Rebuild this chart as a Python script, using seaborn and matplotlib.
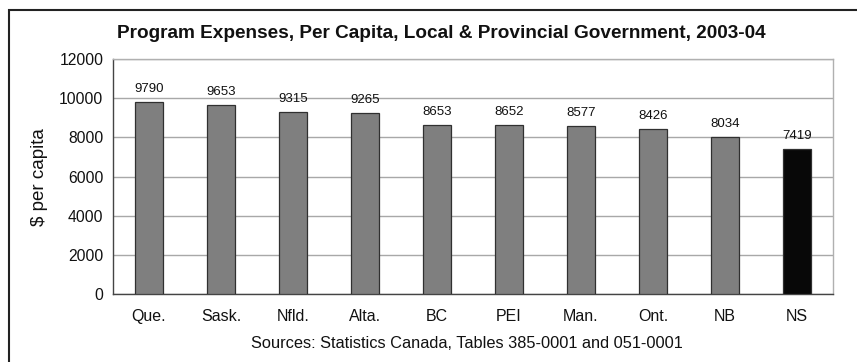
import matplotlib
matplotlib.use("Agg")
import matplotlib.pyplot as plt
import seaborn as sns
import pandas as pd
from matplotlib.patches import Rectangle

provinces = ["Que.", "Sask.", "Nfld.", "Alta.", "BC", "PEI", "Man.", "Ont.", "NB", "NS"]
expenses = [9790, 9653, 9315, 9265, 8653, 8652, 8577, 8426, 8034, 7419]
bar_colors = ["#7f7f7f"] * 9 + ["#080808"]
y_ticks = [0, 2000, 4000, 6000, 8000, 10000, 12000]

sns.set_theme(style="white")
plt.rcParams["font.family"] = ["Liberation Sans", "DejaVu Sans"]

df = pd.DataFrame({"province": provinces, "expense": expenses})

fig = plt.figure(figsize=(8.57, 3.62), dpi=100)
ax = fig.add_axes([113 / 857, 1 - 294 / 362, 720 / 857, 235 / 362])

sns.barplot(data=df, x="province", y="expense", hue="province",
            palette=bar_colors, legend=False, width=0.4, ax=ax,
            edgecolor="#303030", linewidth=0.9, zorder=3)

ax.set_ylim(0, 12000)
ax.set_xlim(-0.5, len(provinces) - 0.5)
ax.set_yticks(y_ticks)
ax.set_yticklabels([str(t) for t in y_ticks], fontsize=11.3, color="#111111")
ax.tick_params(axis="y", length=4, width=0.8, color="#555555", pad=3)
ax.tick_params(axis="x", length=0, labelsize=11.5, labelcolor="#111111", pad=11)
ax.yaxis.grid(True, color="#a8a8a8", linewidth=1.0, zorder=0)
ax.set_axisbelow(True)
ax.set_xlabel("")
ax.set_ylabel("")

for side in ["top", "right"]:
    ax.spines[side].set_color("#b0b0b0")
    ax.spines[side].set_linewidth(1.0)
for side in ["left", "bottom"]:
    ax.spines[side].set_color("#444444")
    ax.spines[side].set_linewidth(1.0)

for i, v in enumerate(expenses):
    ax.text(i, v + 350, str(v), ha="center", va="bottom", fontsize=9.5, color="#111111")

fig.text(39 / 857, 1 - 177 / 362, "$ per capita", rotation=90,
         ha="center", va="center", fontsize=13.5, color="#111111")
fig.text(441 / 857, 1 - 33 / 362, "Program Expenses, Per Capita, Local & Provincial Government, 2003-04",
         ha="center", va="center", fontsize=13.7, fontweight="bold", color="#111111")
fig.text(467 / 857, 1 - 343 / 362, "Sources: Statistics Canada, Tables 385-0001 and 051-0001",
         ha="center", va="center", fontsize=11.8, color="#111111")

# outer frame around the whole chart
frame = Rectangle((9 / 857, -0.05), 1.0, 1 - 10 / 362 + 0.05, transform=fig.transFigure,
                  fill=False, edgecolor="#222222", linewidth=1.5)
fig.patches.append(frame)

fig.savefig("out.png", dpi=100)
